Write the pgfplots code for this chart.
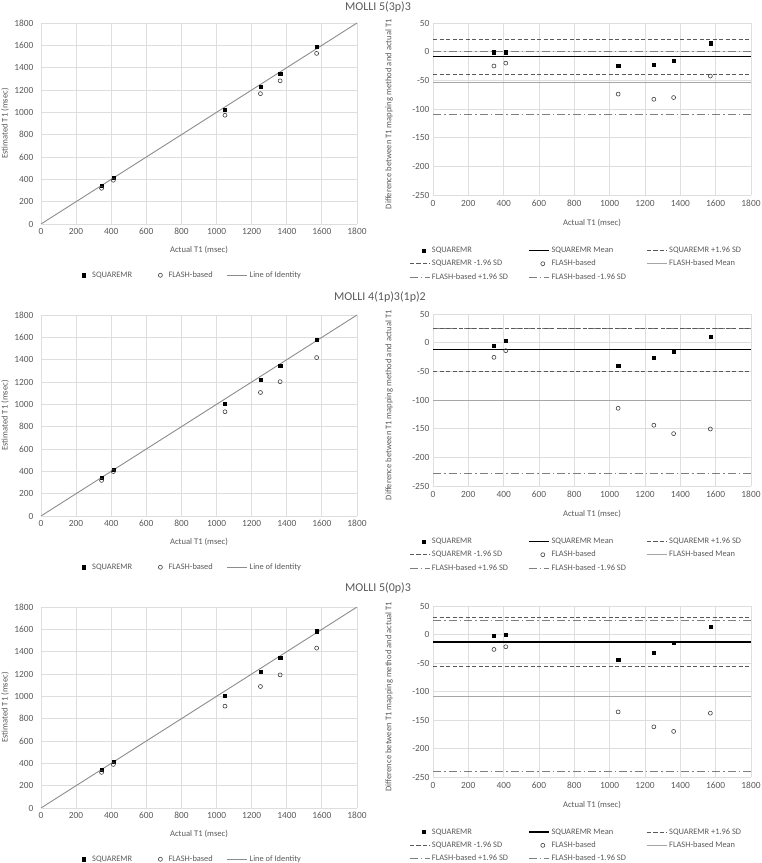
\documentclass[border=0pt]{standalone}
\usepackage{fontspec}
\setmainfont{Carlito}
\usepackage{pgfplots}
\pgfplotsset{compat=1.18}
\definecolor{gridc}{HTML}{DEDEDE}
\definecolor{txt}{HTML}{595959}
\definecolor{idlc}{HTML}{8C8C8C}
\definecolor{circc}{HTML}{404040}
\definecolor{sqsdc}{HTML}{595959}
\definecolor{flmeanc}{HTML}{A6A6A6}
\definecolor{flsdc}{HTML}{7F7F7F}
\pgfplotsset{
  base/.style={scale only axis, xmin=0, xmax=1800, xtick={0,200,...,1800},
    grid=major, grid style={gridc, line width=0.8pt},
    axis line style={draw=none}, major tick length=0pt,
    tick label style={font=\fontsize{9.4}{11}\selectfont, text=txt},
    /pgf/number format/assume math mode=true, /pgf/number format/1000 sep={},
    label style={font=\fontsize{8.6}{10}\selectfont, text=txt},
    xlabel={Actual T1 (msec)},
    legend cell align=left,
    legend image code/.code={\path (0pt,0pt) (20pt,0pt);\draw[mark repeat=2,mark phase=2,##1] plot coordinates {(0pt,0pt) (10pt,0pt) (20pt,0pt)};},
    legend style={draw=none, fill=none, font=\fontsize{8.4}{10}\selectfont, text=txt,
      row sep=2pt,
      /tikz/every even column/.append style={column sep=12pt},
      /tikz/every odd column/.append style={column sep=0pt}},
  },
  leftax/.style={base, width=316pt, height=201pt, ymin=0, ymax=1800, ytick={0,200,...,1800},
    ylabel={Estimated T1 (msec)},
    yticklabel style={xshift=-4pt}, xticklabel style={yshift=-1pt},
    ylabel style={at={(axis description cs:-0.114,0.5)}, anchor=center},
    xlabel style={at={(axis description cs:0.5,-0.13)}, anchor=center},
    legend columns=3,
    legend style={at={(axis description cs:0.46,-0.255)}, anchor=center}},
  rightax/.style={base, width=318pt, height=172pt, ymin=-250, ymax=50, ytick={-250,-200,...,50},
    ylabel={Difference between T1 mapping method and actual T1},
    yticklabel style={xshift=0pt}, xticklabel style={yshift=-2pt},
    ylabel style={at={(axis description cs:-0.138,0.47)}, anchor=center},
    xlabel style={at={(axis description cs:0.5,-0.163)}, anchor=center},
    legend columns=3,
    legend style={at={(axis description cs:0.45,-0.40)}, anchor=center,
      /tikz/every even column/.append style={column sep=18pt}}},
  markimg/.style={legend image code/.code={\path (0pt,0pt) (20pt,0pt);\draw[##1] plot coordinates {(14pt,0pt)};}},
  sqmk/.style={only marks, mark=square*, mark size=1.6pt, black, markimg},
  flmk/.style={only marks, mark=o, mark size=2pt, draw=circc, mark options={line width=0.6pt, draw=circc, fill=white}, markimg},
  idline/.style={draw=idlc, line width=0.9pt, no marks},
  sqmean/.style={draw=black, line width=1.4pt, no marks},
  sqsdl/.style={draw=sqsdc, line width=0.9pt, dash pattern=on 4pt off 2.5pt, no marks},
  flmean/.style={draw=flmeanc, line width=1.2pt, no marks},
  flsdl/.style={draw=flsdc, line width=0.9pt, dash pattern=on 8pt off 3pt on 1.5pt off 3pt, no marks},
}
\newcommand{\rightlegend}{%
  \addlegendimage{sqmk}\addlegendentry{SQUAREMR}
  \addlegendimage{sqmean}\addlegendentry{SQUAREMR Mean}
  \addlegendimage{sqsdl}\addlegendentry{SQUAREMR +1.96 SD}
  \addlegendimage{sqsdl}\addlegendentry{SQUAREMR -1.96 SD}
  \addlegendimage{flmk}\addlegendentry{FLASH-based}
  \addlegendimage{flmean}\addlegendentry{FLASH-based Mean}
  \addlegendimage{flsdl}\addlegendentry{FLASH-based +1.96 SD}
  \addlegendimage{flsdl}\addlegendentry{FLASH-based -1.96 SD}}
\begin{document}
\begin{tikzpicture}
\path[use as bounding box] (0pt,0pt) rectangle (762pt,863pt);
\node[font=\fontsize{12}{14}\selectfont, text=txt] at (378pt,856pt) {MOLLI 5(3p)3};
\node[font=\fontsize{12}{14}\selectfont, text=txt] at (380pt,566pt) {MOLLI 4(1p)3(1p)2};
\node[font=\fontsize{12}{14}\selectfont, text=txt] at (378pt,275pt) {MOLLI 5(0p)3};

% ---------- Row 1 ----------
\begin{axis}[leftax, at={(41pt,639pt)}, anchor=south west]
\addplot[sqmk] coordinates {(345,344) (412,411) (1048,1023.5) (1250,1227) (1362,1346) (1570,1584.6)};
\addlegendentry{SQUAREMR}
\addplot[flmk] coordinates {(345,320) (412,392) (1048,974) (1250,1167) (1362,1282) (1570,1527.5)};
\addlegendentry{FLASH-based}
\addplot[idline] coordinates {(0,0) (1800,1800)};
\addlegendentry{Line of Identity}
\end{axis}
\begin{axis}[rightax, at={(433pt,668pt)}, anchor=south west]
\addplot[flsdl, forget plot] coordinates {(0,1.2) (1800,1.2)};
\addplot[flsdl, forget plot] coordinates {(0,-109) (1800,-109)};
\addplot[flmean, forget plot] coordinates {(0,-54) (1800,-54)};
\addplot[sqsdl, forget plot] coordinates {(0,21.6) (1800,21.6)};
\addplot[sqsdl, forget plot] coordinates {(0,-39) (1800,-39)};
\addplot[sqmean, forget plot] coordinates {(0,-8.5) (1800,-8.5)};
\addplot[flmk, forget plot] coordinates {(345,-25) (412,-20) (1048,-74) (1250,-83) (1362,-80) (1570,-42.5)};
\addplot[sqmk, forget plot] coordinates {(345,-1) (412,-1) (1048,-24.5) (1250,-23) (1362,-16) (1570,14.6)};
\rightlegend
\end{axis}

% ---------- Row 2 ----------
\begin{axis}[leftax, at={(41pt,347pt)}, anchor=south west]
\addplot[sqmk] coordinates {(345,340) (412,415) (1048,1008) (1250,1224) (1362,1346) (1570,1580)};
\addlegendentry{SQUAREMR}
\addplot[flmk] coordinates {(345,319) (412,398) (1048,933.5) (1250,1106) (1362,1203) (1570,1419)};
\addlegendentry{FLASH-based}
\addplot[idline] coordinates {(0,0) (1800,1800)};
\addlegendentry{Line of Identity}
\end{axis}
\begin{axis}[rightax, at={(433pt,377pt)}, anchor=south west]
\addplot[flsdl, forget plot] coordinates {(0,25.5) (1800,25.5)};
\addplot[flsdl, forget plot] coordinates {(0,-228.5) (1800,-228.5)};
\addplot[flmean, forget plot] coordinates {(0,-101.5) (1800,-101.5)};
\addplot[sqsdl, forget plot] coordinates {(0,25) (1800,25)};
\addplot[sqsdl, forget plot] coordinates {(0,-49.4) (1800,-49.4)};
\addplot[sqmean, forget plot] coordinates {(0,-12.2) (1800,-12.2)};
\addplot[flmk, forget plot] coordinates {(345,-25.6) (412,-14) (1048,-114.5) (1250,-144) (1362,-158.7) (1570,-150.6)};
\addplot[sqmk, forget plot] coordinates {(345,-4.7) (412,3) (1048,-40) (1250,-25.6) (1362,-15.7) (1570,10)};
\rightlegend
\end{axis}

% ---------- Row 3 ----------
\begin{axis}[leftax, at={(41pt,55pt)}, anchor=south west]
\addplot[sqmk] coordinates {(345,342) (412,412) (1048,1004) (1250,1218) (1362,1348) (1570,1584)};
\addlegendentry{SQUAREMR}
\addplot[flmk] coordinates {(345,319) (412,390) (1048,912) (1250,1088) (1362,1192) (1570,1432)};
\addlegendentry{FLASH-based}
\addplot[idline] coordinates {(0,0) (1800,1800)};
\addlegendentry{Line of Identity}
\end{axis}
\begin{axis}[rightax, at={(433pt,86pt)}, anchor=south west, height=171pt]
\addplot[flsdl, forget plot] coordinates {(0,24.2) (1800,24.2)};
\addplot[flsdl, forget plot] coordinates {(0,-240) (1800,-240)};
\addplot[flmean, forget plot] coordinates {(0,-108.5) (1800,-108.5)};
\addplot[sqsdl, forget plot] coordinates {(0,29.4) (1800,29.4)};
\addplot[sqsdl, forget plot] coordinates {(0,-55.5) (1800,-55.5)};
\addplot[sqmean, forget plot] coordinates {(0,-13.3) (1800,-13.3)};
\addplot[flmk, forget plot] coordinates {(345,-26.2) (412,-21.5) (1048,-135.8) (1250,-162) (1362,-170) (1570,-138)};
\addplot[sqmk, forget plot] coordinates {(345,-2.7) (412,-0.4) (1048,-43.8) (1250,-32) (1362,-13.9) (1570,13.7)};
\rightlegend
\end{axis}
\end{tikzpicture}
\end{document}
